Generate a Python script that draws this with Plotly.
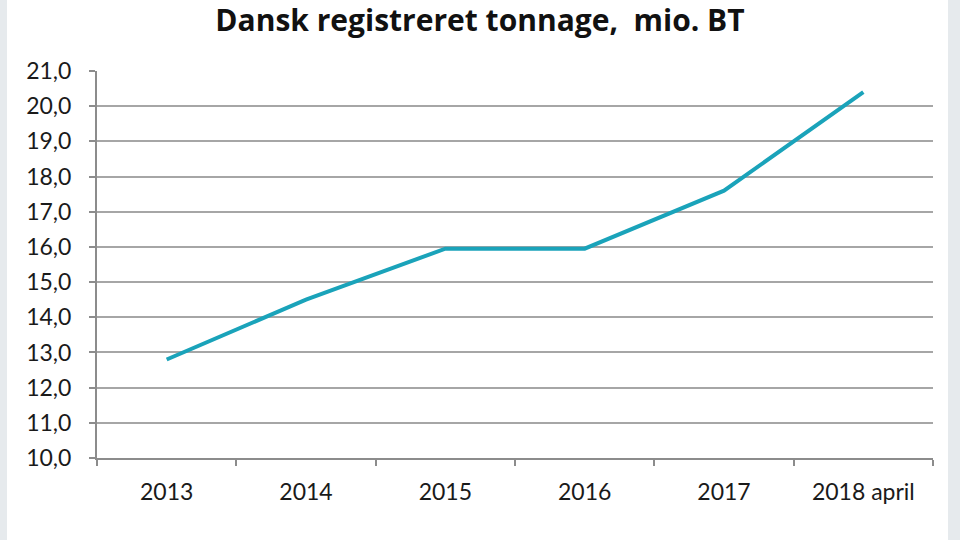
import plotly.graph_objects as go

categories = ["2013", "2014", "2015", "2016", "2017", "2018 april"]
tonnage = [12.8, 14.5, 15.95, 15.95, 17.6, 20.4]
y_ticks = [10, 11, 12, 13, 14, 15, 16, 17, 18, 19, 20, 21]

fig = go.Figure()
fig.add_trace(go.Scatter(
    x=categories, y=tonnage, mode="lines",
    line=dict(color="#1AA3BA", width=4),
    hoverinfo="skip",
))

tick_font = "Lato, Open Sans, sans-serif"
title_font = "Open Sans, Lato, sans-serif"

fig.update_layout(
    width=960, height=540,
    margin=dict(l=97, r=27, t=71, b=82, autoexpand=False),
    paper_bgcolor="white", plot_bgcolor="white",
    separators=", ",
    showlegend=False,
    title=dict(
        text="<b>Dansk registreret tonnage,\u00a0 mio. BT</b>",
        x=0.5, xanchor="center", y=1 - 20/540, yanchor="middle",
        font=dict(family=title_font, size=30, color="#111111"),
    ),
    xaxis=dict(
        type="category",
        range=[-0.5, 5.5],
        showgrid=False,
        showline=True, linecolor="#8c8c8c", linewidth=2,
        ticks="outside", tickson="boundaries", ticklen=6,
        tickcolor="#8c8c8c", tickwidth=2,
        ticklabelstandoff=12,
        tickfont=dict(family=tick_font, size=23, color="#1a1a1a"),
        fixedrange=True,
    ),
    yaxis=dict(
        range=[10, 21],
        tickvals=y_ticks,
        tickformat=".1f",
        showgrid=True, gridcolor="#a6a6a6", gridwidth=2,
        showline=True, linecolor="#8c8c8c", linewidth=2,
        ticks="outside", ticklen=6, tickcolor="#8c8c8c", tickwidth=2,
        ticklabelstandoff=13,
        tickfont=dict(family=tick_font, size=23, color="#1a1a1a"),
        zeroline=False,
        fixedrange=True,
    ),
    shapes=[
        dict(type="rect", xref="paper", yref="paper", x0=-97/836, x1=-90/836, y0=-82/387, y1=1+71/387,
             fillcolor="#e6eaed", line=dict(width=0), layer="below"),
        dict(type="rect", xref="paper", yref="paper", x0=1+15/836, x1=1+27/836, y0=-82/387, y1=1+71/387,
             fillcolor="#e6eaed", line=dict(width=0), layer="below"),
    ],
)

fig.write_html("out.html", config={"displayModeBar": False},
               post_script="document.body.style.margin='0px';")
